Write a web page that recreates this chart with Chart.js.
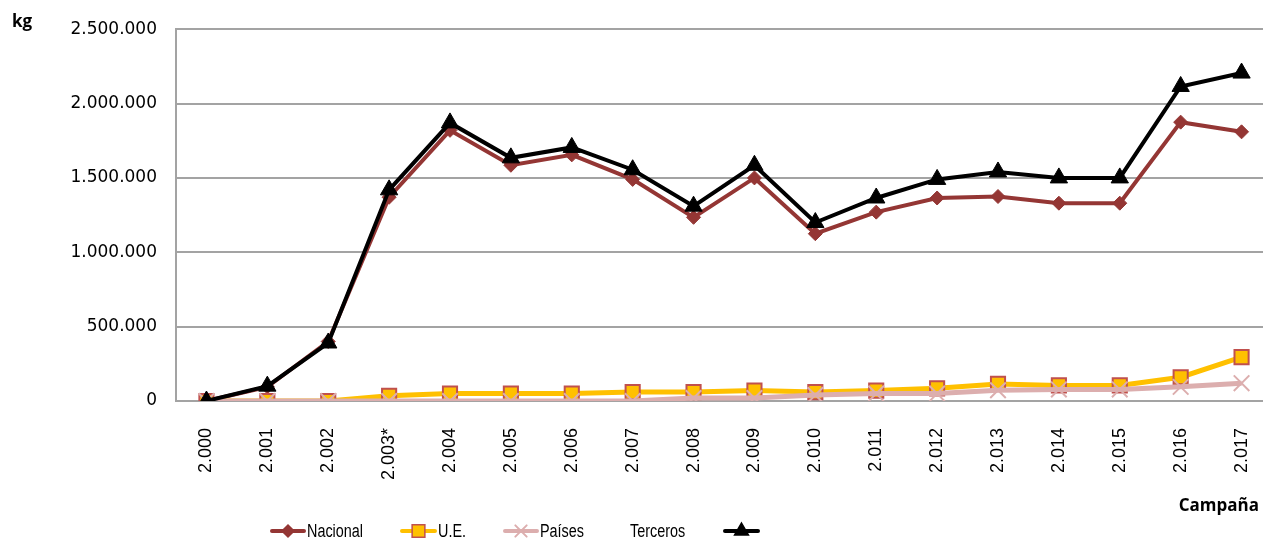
<!DOCTYPE html>
<html>
<head>
<meta charset="utf-8">
<script src="https://cdn.jsdelivr.net/npm/chart.js@4.4.1/dist/chart.umd.min.js"></script>
<style>
  html, body { margin: 0; padding: 0; background: #fff; overflow: hidden; }
  #wrap { position: relative; width: 1263px; height: 542px; overflow: hidden; }
  #c { position: absolute; left: 0; top: 0; }
</style>
</head>
<body>
<div id="wrap"><canvas id="c" width="1275" height="542"></canvas></div>
<script>
// Campaign years (as printed on the axis)
const campanas = ['2.000', '2.001', '2.002', '2.003*', '2.004', '2.005', '2.006', '2.007', '2.008',
  '2.009', '2.010', '2.011', '2.012', '2.013', '2.014', '2.015', '2.016', '2.017'];

// Quantities in kg per origin
const nacional = [0, 95000, 400000, 1370000, 1820000, 1585000, 1655000, 1490000, 1235000,
  1500000, 1125000, 1270000, 1365000, 1375000, 1330000, 1330000, 1875000, 1810000];
const ue = [0, 0, 0, 35000, 50000, 50000, 50000, 60000, 60000,
  70000, 60000, 70000, 85000, 115000, 105000, 105000, 160000, 295000];
const paisesTerceros = [0, 0, 0, 0, 0, 0, 0, 0, 20000,
  20000, 40000, 50000, 50000, 72000, 78000, 78000, 95000, 120000];
const total = [0, 100000, 390000, 1420000, 1870000, 1635000, 1705000, 1555000, 1310000,
  1585000, 1200000, 1365000, 1490000, 1540000, 1500000, 1500000, 2115000, 2205000];

// Y axis range and tick step
const yMin = 0, yMax = 2500000, yStep = 500000;

const C_NAC = '#943634', C_UE = '#FFC000', C_UE_BORDER = '#C0504D', C_PT = '#DCAEAE', C_TOT = '#000000';
const GRID = '#a3a3a3';

function fmtMiles(v) {
  return String(Math.round(v)).replace(/\B(?=(\d{3})+(?!\d))/g, '.');
}

// Small marker painter used by the legend
function marker(ctx, style, x, y, r, fill, stroke, lw) {
  ctx.save();
  ctx.fillStyle = fill; ctx.strokeStyle = stroke; ctx.lineWidth = lw;
  ctx.beginPath();
  if (style === 'rectRot') {
    ctx.moveTo(x, y - r); ctx.lineTo(x + r, y); ctx.lineTo(x, y + r); ctx.lineTo(x - r, y); ctx.closePath();
    ctx.fill(); ctx.stroke();
  } else if (style === 'rect') {
    const s = r * Math.SQRT1_2;
    ctx.rect(x - s, y - s, 2 * s, 2 * s); ctx.fill(); ctx.stroke();
  } else if (style === 'triangle') {
    ctx.moveTo(x, y - r); ctx.lineTo(x + r * 0.866, y + r * 0.5); ctx.lineTo(x - r * 0.866, y + r * 0.5); ctx.closePath();
    ctx.fill(); ctx.stroke();
  } else if (style === 'crossRot') {
    const s = r * Math.SQRT1_2;
    ctx.moveTo(x - s, y - s); ctx.lineTo(x + s, y + s); ctx.moveTo(x + s, y - s); ctx.lineTo(x - s, y + s);
    ctx.stroke();
  }
  ctx.restore();
}

// Narrow legend text: regular face squeezed horizontally
function narrowText(ctx, text, x, y) {
  ctx.save();
  ctx.translate(x, y);
  ctx.scale(0.8, 1);
  ctx.fillText(text, 0, 0);
  ctx.restore();
}

const extras = {
  id: 'extras',
  afterDraw(chart) {
    const ctx = chart.ctx;
    ctx.save();
    // axis titles
    ctx.fillStyle = '#000';
    ctx.font = 'bold 17px "Open Sans", sans-serif';
    ctx.textBaseline = 'middle';
    ctx.textAlign = 'left';
    ctx.fillText('kg', 12, 22);
    ctx.textAlign = 'right';
    ctx.fillText('Campaña', 1259, 506);

    // legend
    const ly = 531;
    ctx.font = '18px "Liberation Sans", sans-serif';
    ctx.textAlign = 'left';
    const items = [
      { x0: 272, x1: 304, color: C_NAC, lw: 4, style: 'rectRot', r: 6, fill: C_NAC, stroke: C_NAC, text: 'Nacional', tx: 307 },
      { x0: 402, x1: 435, color: C_UE, lw: 4, style: 'rect', r: 9, fill: C_UE, stroke: C_UE_BORDER, text: 'U.E.', tx: 438 },
      { x0: 505, x1: 537, color: C_PT, lw: 4, style: 'crossRot', r: 8, fill: C_PT, stroke: C_PT, text: 'Países', tx: 540 },
      { x0: 725, x1: 758, color: C_TOT, lw: 4, style: 'triangle', r: 8, fill: C_TOT, stroke: C_TOT, text: '', tx: 0 }
    ];
    items.forEach(it => {
      ctx.strokeStyle = it.color; ctx.lineWidth = it.lw; ctx.lineCap = 'round';
      ctx.beginPath(); ctx.moveTo(it.x0, ly); ctx.lineTo(it.x1, ly); ctx.stroke();
      marker(ctx, it.style, (it.x0 + it.x1) / 2, ly, it.r, it.fill, it.stroke, it.style === 'crossRot' ? 2 : 1.5);
      if (it.text) { ctx.fillStyle = '#000'; narrowText(ctx, it.text, it.tx, ly + 1); }
    });
    ctx.fillStyle = '#000';
    narrowText(ctx, 'Terceros', 630, ly + 1);
    ctx.restore();
  }
};

new Chart(document.getElementById('c'), {
  type: 'line',
  data: {
    labels: campanas,
    datasets: [
      { label: 'Nacional', data: nacional, order: 4, borderColor: C_NAC, backgroundColor: C_NAC,
        borderWidth: 4, pointStyle: 'rectRot', pointRadius: 7, pointBorderWidth: 1, pointBackgroundColor: C_NAC, pointBorderColor: C_NAC },
      { label: 'U.E.', data: ue, order: 3, borderColor: C_UE, backgroundColor: C_UE,
        borderWidth: 5, pointStyle: 'rect', pointRadius: 10, pointBorderWidth: 2, pointBackgroundColor: C_UE, pointBorderColor: C_UE_BORDER },
      { label: 'Países Terceros', data: paisesTerceros, order: 2, borderColor: C_PT, backgroundColor: C_PT,
        borderWidth: 5, pointStyle: 'crossRot', pointRadius: 11, pointBorderWidth: 2, pointBackgroundColor: C_PT, pointBorderColor: C_PT },
      { label: 'Total', data: total, order: 1, borderColor: C_TOT, backgroundColor: C_TOT,
        borderWidth: 4, pointStyle: 'triangle', pointRadius: 10, pointBorderWidth: 1, pointBackgroundColor: C_TOT, pointBorderColor: C_TOT }
    ]
  },
  options: {
    responsive: false,
    animation: false,
    layout: { autoPadding: false, padding: { top: 28, right: 3, left: 0, bottom: 0 } },
    plugins: { legend: { display: false }, tooltip: { enabled: false } },
    elements: { line: { tension: 0 } },
    scales: {
      x: {
        offset: true,
        grid: { display: false, drawTicks: false },
        border: { color: GRID, width: 2 },
        ticks: {
          color: '#000', padding: 27, minRotation: 90, maxRotation: 90, autoSkip: false,
          font: { family: '"Liberation Sans", Arial, sans-serif', size: 18 }
        },
        afterFit(s) { s.height = 141; s.paddingLeft = 0; s.paddingRight = 0; }
      },
      y: {
        min: yMin, max: yMax,
        grid: { color: GRID, lineWidth: 2, drawTicks: false },
        border: { color: GRID, width: 2 },
        ticks: {
          stepSize: yStep, color: '#000', padding: 19,
          font: { family: '"DejaVu Sans", sans-serif', size: 17 },
          callback: v => fmtMiles(v)
        },
        afterFit(s) { s.width = 176; }
      }
    }
  },
  plugins: [extras]
});
</script>
</body>
</html>
